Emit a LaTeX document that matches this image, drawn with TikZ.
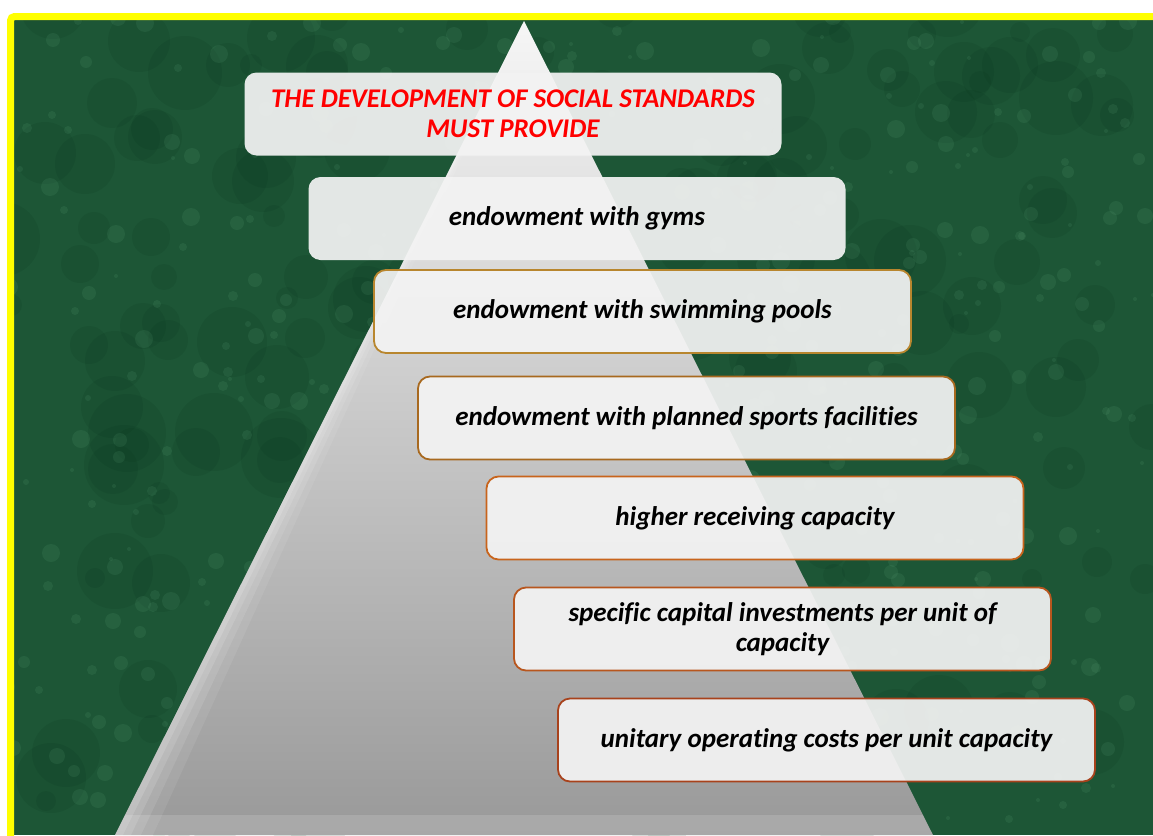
\documentclass[tikz,border=0pt]{standalone}
\usepackage{fontspec}
\setmainfont{Carlito}[Ligatures=NoCommon]
\definecolor{frameYellow}{HTML}{FFFF00}
\definecolor{bgGreen}{HTML}{1D5636}
\definecolor{bgLight}{HTML}{6AB285}
\definecolor{bgDark}{HTML}{06301A}
\definecolor{boxFill}{HTML}{F3F3F3}
\definecolor{pyrTop}{HTML}{F6F6F6}
\definecolor{pyrMid}{HTML}{A9A9A9}
\definecolor{pyrBot}{HTML}{999999}
\definecolor{edgeA}{HTML}{B8862E}
\definecolor{edgeB}{HTML}{A8691F}
\definecolor{edgeC}{HTML}{C8641C}
\definecolor{edgeD}{HTML}{B8561E}
\definecolor{edgeE}{HTML}{A8421C}
\definecolor{titleRed}{HTML}{FF0000}

\begin{document}
\begin{tikzpicture}[x=1pt, y=-1pt,
    box/.style={rounded corners=12pt, fill=boxFill, fill opacity=0.93,
                text opacity=1, minimum width=537pt, minimum height=83pt,
                inner sep=0pt, align=center,
                font=\fontsize{27}{30}\selectfont\bfseries\itshape},
    edged/.style={box, draw=#1, draw opacity=1, line width=1.8pt},
]
\pgfmathsetseed{42}
\useasboundingbox (0,0) rectangle (1153,835);
\fill[white] (0,0) rectangle (1153,835);

% --- marble background ---
\begin{scope}
  \clip (14,20) rectangle (1153,835);
  \fill[bgGreen] (14,20) rectangle (1153,835);
  \foreach \k in {1,...,220}{
    \pgfmathsetmacro\bx{random(0,1153)}
    \pgfmathsetmacro\by{random(0,835)}
    \pgfmathsetmacro\br{random(10,40)}
    \fill[bgDark, opacity=0.12] (\bx,\by) circle[radius=\br];
  }
  \foreach \k in {1,...,500}{
    \pgfmathsetmacro\bx{random(0,1153)}
    \pgfmathsetmacro\by{random(0,835)}
    \pgfmathsetmacro\br{random(2,9)}
    \fill[bgLight, opacity=0.12] (\bx,\by) circle[radius=\br];
  }
\end{scope}

% --- yellow frame ---
\draw[frameYellow, line width=7pt, rounded corners=4pt]
    (10.5,16.5) rectangle (1180,860);

% --- pyramid ---
\coordinate (apex) at (524,21);
\coordinate (baseL) at (115,835);
\coordinate (baseR) at (933,835);
\shade[top color=pyrTop, middle color=pyrMid, bottom color=pyrBot]
    (apex) -- (baseR) -- (baseL) -- cycle;
\begin{scope}
  \clip (apex) -- (baseR) -- (baseL) -- cycle;
  \foreach \w/\o in {8/0.14, 16/0.12, 26/0.10, 38/0.08}
    \fill[white, opacity=\o] (apex) -- (baseL) -- ([xshift=\w pt]baseL) -- cycle;
  \fill[white, opacity=0.15] (115,815) rectangle (933,835);
\end{scope}

% --- steps ---
\node[box] (title) at (513,114)
    {\textcolor{titleRed}{THE DEVELOPMENT OF SOCIAL STANDARDS}\\
     \textcolor{titleRed}{MUST PROVIDE}};
\node[box] (gyms) at (577,218.5) {endowment with gyms};
\node[edged=edgeA] (pools) at (642.5,311.5) {endowment with swimming pools};
\node[edged=edgeB] (facilities) at (686.5,418) {endowment with planned sports facilities};
\node[edged=edgeC] (capacity) at (755,518) {higher receiving capacity};
\node[edged=edgeD] (invest) at (782.5,629)
    {specific capital investments per unit of\\capacity};
\node[edged=edgeE] (costs) at (826.5,740) {unitary operating costs per unit capacity};

\end{tikzpicture}
\end{document}
